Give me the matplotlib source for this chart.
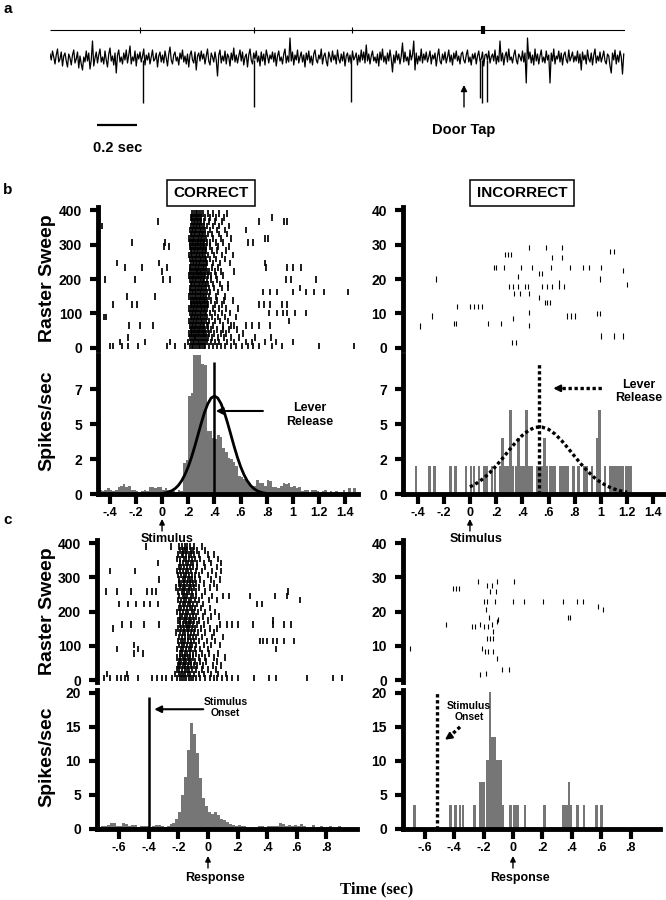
import numpy as np
import matplotlib
matplotlib.use("Agg")
import matplotlib.pyplot as plt

plt.rcParams["font.family"] = ["Liberation Sans", "DejaVu Sans"]
plt.rcParams["font.weight"] = "bold"

# ======================= DATA =======================
# ---- panel a : raw trace (relative amplitude), sampled every trace_dt s
trace_dt = 0.00625
trace_vals = [
    4, -2, 7, 1, -6, 3, 9, -4, -1, 6,
    -8, 2, 5, -3, -9, 4, 0, -7, 3, 8,
    -5, -1, 6, -10, 2, -6, -12, 1, -4, 7,
    -3, 5, -11, -2, 17, -8, 0, 6, -5, 3,
    9, -4, 1, -6, 7, -2, -9, 4, 10, -3,
    2, -7, 5, -15, 3, 8, -4, 1, -6, 5,
    -2, 8, -5, 3, 12, -6, 1, -3, 7, -8,
    4, -1, 6, -4, 2, 9, -7, 3, -2, 5,
    -6, 1, 8, -3, -1, 5, -9, 2, 6, -4,
    3, -5, 7, 0, -8, 4, 11, -2, -6, 3,
    6, -3, 1, -7, 5, -1, 8, -4, 2, -6,
    4, -9, 3, 7, -2, -5, 6, -12, 2, 5,
    -3, 7, -1, 4, -6, 2, 9, -3, -7, 5,
    1, -4, 6, -2, -18, 3, 8, -5, 2, -3,
    7, -6, 4, 1, -8, 5, -2, 10, -4, 3,
    -5, 2, 8, -3, 6, -7, 1, 4, -9, 3,
    9, -2, -6, 5, -1, 7, -4, 2, -8, 6,
    -3, 4, -7, 8, 2, -5, 3, -1, 6, -4,
    5, -8, 2, 7, -3, 1, -6, 4, 9, -5,
    2, -4, 20, -3, 6, -7, 3, -2, 8, -5,
    1, 6, -4, 3, -9, 5, -2, 7, -5, 2,
    -7, 4, 8, -2, -5, 3, -1, 9, -6, 2,
    5, -3, -8, 6, 1, -4, 7, -2, 3, -6,
    8, -1, -5, 4, -3, 6, -8, 2, 5, -4,
    3, -6, 7, -2, 1, 5, -7, 3, -4, 8,
    -2, 6, -5, 13, -3, 4, -6, 2, 7, -3,
    1, -5, 4, -8, 6, -2, 9, -4, 2, -6,
    5, -3, 8, -1, -14, 3, -5, 7, -2, 4,
    -6, 2, 15, -4, 6, -3, 1, -7, 8, -2,
    3, 17, -12, 5, -6, 2, -3, 9, -5, 4,
    -2, 6, -4, 1, 7, -6, 3, -1, 5, -8,
    2, 9, -3, -6, 4, -2, 6, -5, 1, 8,
    -4, 3, -7, 5, -1, 7, -3, 2, -6, 4,
    6, -2, -5, 3, 8, -4, 1, -7, 4, -1,
    5, -6, 2, 7, -3, -1, 6, -8, 3, 4,
    -2, 7, -5, 1, 4, -3, 8, -6, 2, -4,
    17, -3, 5, -7, 2, 6, -4, 9, -2, 1,
    -5, 3, 8, -2, -6, 4, 1, -3, 7, -4,
    5, -25, 20, -1, 6, -5, 3, -7, 9, -3,
    4, -6, 2, 8, -4, 1, -5, 7, -2, 3,
    -25, 5, -3, 9, -6, 2, -1, 7, -4, 5,
    -7, 3, 6, -2, -5, 8, -3, 1, 6, -4,
    2, -3, 7, -5, 4, -12, 6, -2, 3, -6,
    8, -1, -4, 5, -7, 3, 9, -5, 2, -3,
    6, -4, 1, 7, -3, -6, 4, 2, -8, -15,
    5, -2, 8, -6, 3, -4, 7, 1, -16, 4,
]
spike_times_a = [0.465, 1.02, 1.505, 2.15, 2.16, 2.185]
spike_depths_a = [-45, -49, -44, -40, -45, -44]
event_ticks_a = [0.45, 1.02, 1.51]
door_marker_a = 2.165
door_arrow_a = 2.07

# ---- panel b, CORRECT raster (trial, spike times in ms)
cb_trials = [6, 18, 30, 42, 54, 66, 78, 90, 102, 114, 126, 138, 150, 162, 174, 186, 198,
             210, 222, 234, 246, 258, 270, 282, 294, 306, 318, 330, 342, 354, 366, 378, 390]
cb_times = [
    [-400, -372, -303, -262, -181, 38, 97, 176, 212, 228, 239, 251, 266, 279, 288, 302, 317, 331, 356, 388, 417, 452, 478, 523, 567, 612, 658, 697, 742, 838, 917, 1196, 1468],
    [-322, -131, 57, 198, 221, 236, 247, 259, 273, 284, 297, 311, 326, 343, 371, 408, 437, 497, 548, 641, 683, 789, 868, 1002],
    [-263, 216, 229, 241, 253, 262, 276, 289, 304, 318, 333, 352, 384, 428, 471, 529, 584, 713, 829],
    [207, 223, 232, 246, 258, 271, 283, 296, 309, 322, 338, 361, 398, 447, 488, 618],
    [219, 231, 244, 252, 267, 279, 291, 305, 314, 329, 347, 372, 417, 463, 512, 571],
    [-254, -168, -72, 214, 226, 238, 249, 263, 277, 286, 299, 313, 324, 341, 353, 391, 468, 527, 553, 641, 689, 742, 821],
    [209, 224, 235, 247, 256, 269, 281, 294, 307, 319, 332, 358, 406, 441, 503, 968],
    [-447, -428, 218, 229, 243, 254, 266, 278, 292, 301, 316, 327, 344, 379, 426, 481, 563],
    [213, 227, 236, 251, 262, 274, 287, 298, 312, 325, 339, 366, 402, 458, 518, 818, 876, 921, 953, 1012, 1098],
    [206, 221, 233, 245, 257, 268, 283, 296, 308, 317, 331, 346, 387, 436, 492, 583],
    [-371, -232, -188, 218, 229, 242, 255, 264, 276, 289, 299, 313, 328, 342, 352, 403, 454, 738, 779, 822, 917, 951],
    [221, 234, 246, 256, 269, 281, 293, 304, 317, 329, 343, 377, 416, 472, 538],
    [-271, -52, 208, 223, 235, 248, 259, 272, 286, 297, 309, 321, 336, 359, 409, 482],
    [216, 228, 239, 252, 263, 276, 288, 298, 313, 327, 341, 368, 428, 768, 823, 879, 1003, 1097, 1162, 1238, 1421],
    [211, 222, 237, 249, 261, 274, 284, 296, 306, 319, 332, 356, 398, 459, 507, 1052],
    [219, 231, 244, 253, 266, 279, 291, 303, 312, 326, 338, 352, 391, 439, 502],
    [-432, -203, 4, 58, 214, 226, 239, 251, 263, 277, 289, 301, 315, 324, 342, 377, 418, 948, 983, 1179],
    [208, 222, 234, 247, 258, 271, 282, 294, 306, 318, 331, 353, 371, 412, 468],
    [3, 217, 229, 242, 256, 264, 278, 289, 301, 313, 328, 344, 361, 403, 451, 548],
    [-283, -152, 38, 212, 223, 236, 248, 259, 273, 285, 297, 309, 322, 337, 378, 427, 792, 957, 1003, 1061],
    [-342, -27, 219, 233, 244, 256, 268, 279, 292, 305, 318, 333, 342, 388, 441, 518, 783],
    [214, 226, 238, 251, 262, 276, 287, 299, 312, 325, 338, 366, 414, 477],
    [206, 221, 232, 245, 257, 268, 281, 293, 304, 316, 329, 351, 399, 461, 538],
    [218, 229, 242, 253, 266, 277, 289, 302, 314, 327, 339, 379, 423, 487],
    [12, 53, 211, 224, 236, 248, 262, 273, 286, 297, 309, 321, 334, 368, 428, 512],
    [-228, 22, 216, 227, 239, 252, 264, 276, 287, 299, 311, 324, 344, 363, 412, 468, 658, 692],
    [209, 223, 235, 246, 259, 271, 284, 296, 308, 319, 332, 392, 451, 524, 783, 812],
    [219, 232, 243, 255, 267, 279, 291, 302, 316, 328, 352, 381, 438, 497],
    [212, 226, 237, 249, 261, 272, 286, 297, 309, 326, 368, 419, 478, 641],
    [-458, 221, 233, 246, 257, 269, 281, 293, 306, 319, 341, 388, 432, 508],
    [-32, 228, 241, 253, 264, 276, 288, 301, 318, 362, 402, 458, 742, 928, 951],
    [218, 232, 244, 257, 269, 282, 296, 328, 367, 409, 472, 838],
    [227, 241, 256, 268, 283, 296, 312, 348, 389, 437, 496],
]
# ---- panel b, CORRECT histogram (spikes/sec), 20 ms bins from -0.48 s
cb_hist_start = -0.48
cb_hist_bin = 0.02
cb_hist_rates = [0.3, 0.2, 0.3, 0.4, 0.3, 0.2, 0.3, 0.5, 0.6, 0.7, 0.5, 0.6, 0.3,
                 0.3, 0.2, 0.0, 0.2, 0.3, 0.2, 0.5, 0.5, 0.4, 0.5, 0.5, 0.3, 0.4, 0.3, 0.2,
                 0.2, 0.1, 0.3, 0.2,
                 2.2, 2.4, 7.0, 7.2, 10.5, 10.5, 10.5, 9.3, 9.2,
                 4.5, 4.5, 4.0, 3.9, 4.2, 4.1, 3.3, 3.0, 2.6, 2.5, 2.3, 2.0,
                 1.3, 1.2, 1.1, 0.9, 0.8, 0.6, 0.6, 1.0, 0.8, 0.8, 0.6, 1.0, 0.9, 0.5, 0.5,
                 0.4, 0.6, 0.8, 0.7, 0.8, 0.5, 0.6, 0.4, 0.5, 0.2,
                 0.3, 0.3, 0.0, 0.3, 0.3, 0.2, 0.0, 0.2, 0.3, 0.0, 0.2, 0.0, 0.2, 0.0, 0.0,
                 0.3, 0.0, 0.4, 0.0, 0.4, 0.0]
# Gaussian fit curve
cb_fit_t = [0.0, 0.025, 0.05, 0.075, 0.1, 0.125, 0.15, 0.175, 0.2, 0.225, 0.25, 0.275, 0.3,
            0.325, 0.35, 0.375, 0.4, 0.425, 0.45, 0.475, 0.5, 0.525, 0.55, 0.575, 0.6,
            0.625, 0.65, 0.675, 0.7, 0.725, 0.75, 0.775, 0.8]
cb_fit_rate = [0.04, 0.08, 0.14, 0.24, 0.39, 0.62, 0.95, 1.39, 1.95, 2.63, 3.41, 4.25, 5.08,
               5.85, 6.46, 6.86, 7.0, 6.86, 6.46, 5.85, 5.08, 4.25, 3.41, 2.63, 1.95,
               1.39, 0.95, 0.62, 0.39, 0.24, 0.14, 0.08, 0.04]
cb_lever = 0.4

# ---- panel b, INCORRECT raster (trial, spike times in s)
ib_trials = [29.2, 27.2, 28.0, 26.3, 23.4, 22.4, 21.6, 20.7, 20.0, 19.0, 18.5, 17.8, 15.9,
             14.6, 13.1, 12.0, 10.2, 9.9, 9.3, 8.6, 7.0, 6.5, 6.4, 3.5, 1.5]
ib_times = [
    [0.45, 0.58, 0.70], [0.27, 0.29, 0.31], [1.07, 1.10], [0.63, 0.70],
    [0.18, 0.20, 0.26, 0.39, 0.47, 0.62, 0.76, 0.86, 0.91, 1.00], [1.17], [0.53, 0.55],
    [0.37], [-0.26, 0.99], [0.68], [1.20],
    [0.30, 0.33, 0.37, 0.42, 0.44, 0.55, 0.59, 0.63, 0.68, 0.72],
    [0.34, 0.38, 0.45], [0.53], [0.57, 0.59, 0.61], [-0.10, 0.0, 0.03, 0.06, 0.09],
    [0.45], [0.97, 0.99], [-0.29, 0.74, 0.77, 0.80], [0.33],
    [-0.12, -0.11, 0.14, 0.24], [0.45], [-0.38], [1.0, 1.1, 1.17], [0.32, 0.35],
]
# ---- panel b, INCORRECT histogram, 20 ms bins from -0.42 s
ib_hist_start = -0.42
ib_hist_bin = 0.02
ib_hist_rates = [2, 0, 0, 0, 0, 2, 0, 2, 0, 0, 0, 0, 0, 2, 0, 2, 0, 0, 0, 2, 0,
                 2, 2, 0, 2, 0, 2, 2, 0, 2, 2, 0, 2, 4, 2, 2, 6, 2, 2, 4, 2,
                 2, 6, 2, 2, 0, 2, 2, 2, 4, 2, 2, 2, 2, 0, 2, 2, 2, 2, 0, 2,
                 0, 2, 0, 2, 2, 0, 2, 0, 4, 6, 0, 2, 0, 2, 2, 2, 2, 2, 2, 2, 2, 2]
ib_fit_t = [0.0, 0.05, 0.1, 0.15, 0.2, 0.25, 0.3, 0.35, 0.4, 0.45, 0.5, 0.55, 0.6,
            0.65, 0.7, 0.75, 0.8, 0.85, 0.9, 0.95, 1.0, 1.05, 1.1, 1.15, 1.2]
ib_fit_rate = [0.51, 0.76, 1.09, 1.51, 2.01, 2.56, 3.14, 3.70, 4.19, 4.56, 4.77, 4.78, 4.62,
               4.28, 3.81, 3.26, 2.68, 2.12, 1.61, 1.17, 0.82, 0.55, 0.36, 0.22, 0.13]
ib_lever = 0.53

# ---- panel c, CORRECT raster (trial, spike times in ms re: response)
cc_trials = [6, 18, 30, 42, 54, 66, 78, 90, 102, 114, 126, 138, 150, 162, 174, 186, 198,
             210, 222, 234, 246, 258, 270, 282, 294, 306, 318, 330, 342, 354, 366, 378, 390]
cc_times = [
    [-702, -661, -618, -587, -563, -538, -472, -381, -342, -308, -281, -243, -212, -192, -176, -163, -148, -131, -117, -102, -83, -52, -21, 12, 41, 63, 97, 128, 161, 203, 312, 409, 462, 671, 842, 903],
    [-683, -548, -223, -198, -183, -167, -152, -134, -119, -96, -63, -28, 18, 71, 122],
    [-212, -193, -176, -158, -142, -127, -108, -82, -41, 3, 52],
    [-203, -186, -171, -153, -138, -116, -94, -71, -33, 31, 88],
    [-196, -181, -164, -147, -126, -113, -91, -54, -12, 62],
    [-208, -188, -168, -152, -136, -121, -102, -63, -18, 42, 113],
    [-502, -441, -192, -174, -156, -143, -124, -104, -78, -38, 8, 68],
    [-618, -473, -211, -183, -167, -146, -131, -112, -87, -52, 2, 458],
    [-497, -198, -177, -161, -141, -123, -106, -81, -29, 22, 79],
    [-202, -184, -166, -152, -134, -113, -92, -58, -8, 49, 352, 371, 398, 441, 468, 512, 583],
    [-193, -176, -153, -138, -122, -101, -84, -42, 28, 103],
    [-214, -192, -171, -154, -133, -118, -97, -68, -22, 38],
    [-641, -201, -182, -163, -144, -128, -109, -88, -49, 12, 58],
    [-583, -518, -432, -331, -189, -172, -151, -137, -119, -103, -77, -28, 81, 128, 162, 203, 302, 441, 512, 561],
    [-204, -186, -163, -146, -129, -114, -92, -59, 3, 442],
    [-192, -173, -158, -139, -121, -102, -83, -37, 18, 72],
    [-209, -191, -172, -151, -132, -111, -93, -68, -17, 48],
    [-198, -181, -162, -143, -124, -108, -86, -48, 11],
    [-602, -541, -487, -432, -392, -341, -188, -169, -152, -138, -119, -98, -72, -31, 331, 362],
    [-203, -183, -164, -148, -127, -112, -89, -62, 4, 58, 621],
    [-194, -172, -157, -141, -118, -99, -78, -42, 28, 102, 141, 282, 452, 531],
    [-692, -618, -521, -412, -381, -352, -201, -178, -161, -143, -128, -107, -81, -21, 538],
    [-213, -191, -168, -152, -131, -117, -96, -61, 12, 63],
    [-199, -182, -159, -142, -121, -103, -79, -28, 42],
    [-331, -193, -171, -158, -138, -122, -108, -87, -52, 18, 82],
    [-204, -179, -163, -148, -127, -111, -91, -58, 3, 51],
    [-661, -492, -211, -188, -169, -151, -132, -113, -82, -38, 28, 91],
    [-197, -182, -161, -141, -119, -102, -71, -18, 62],
    [-338, -188, -171, -149, -137, -118, -98, -77, -28, 21, 88],
    [-208, -186, -162, -148, -128, -109, -88, -51, 8, 71],
    [-201, -178, -166, -147, -131, -116, -97, -63, 2, 43],
    [-192, -171, -158, -139, -118, -101, -72, -22],
    [-422, -251, -198, -177, -158, -141, -121, -92, -38],
]
cc_hist_start = -0.72
cc_hist_bin = 0.02
cc_hist_rates = [0.4, 0.3, 0.5, 0.8, 0.8, 0.4, 0.3, 0.8, 0.7, 0.3,
                 0.5, 0.5, 0.2, 0.4, 0.4, 0.3, 0.2, 0.3, 0.5, 0.5,
                 0.3, 0.2, 0.3, 0.6, 0.8, 1.4, 2.5, 4.9, 7.6, 11.6,
                 15.6, 14.0, 11.2, 7.4, 4.5, 3.3, 2.4, 2.2, 2.5, 2.0,
                 1.4, 1.2, 0.9, 0.6, 0.5, 0.4, 0.5, 0.4, 0.4, 0.2,
                 0.1, 0.0, 0.1, 0.3, 0.3, 0.1, 0.4, 0.4, 0.3, 0.4,
                 0.8, 0.6, 0.4, 0.5, 0.3, 0.5, 0.4, 0.6, 0.3, 0.1,
                 0.2, 0.5, 0.1, 0.2, 0.4, 0.1, 0.2, 0.4, 0.1, 0.0,
                 0.4, 0.1]
cc_stim_onset = -0.4

# ---- panel c, INCORRECT raster (trial, spike times in s re: response)
ic_trials = [28.7, 27.7, 26.6, 25.8, 22.9, 21.6, 20.6, 18.3, 17.7, 17.0, 16.1, 15.6, 14.1,
             12.2, 9.2, 8.3, 6.3, 3.1, 1.9, 1.5]
ic_times = [
    [-0.236, -0.111, 0.007], [-0.179, -0.145], [-0.406, -0.388, -0.367], [-0.156, -0.116],
    [-0.197, -0.179, -0.122, 0.002, 0.075, 0.206, 0.342, 0.437, 0.478], [0.58], [0.61, -0.184],
    [0.375, 0.385, -0.161], [-0.1], [-0.111], [-0.458, -0.224, -0.145], [-0.281, -0.259, -0.195, -0.168],
    [-0.134], [-0.179, -0.156, -0.138], [-0.70, -0.213], [-0.19, -0.168, -0.138], [-0.107],
    [-0.077, -0.025], [-0.184], [-0.224],
]
ic_hist_centers = [-0.67, -0.425, -0.39, -0.36, -0.34, -0.26, -0.22, -0.20, -0.175, -0.157,
                   -0.14, -0.122, -0.104, -0.087, -0.07, -0.016, 0.009, 0.032, 0.082, 0.213,
                   0.342, 0.365, 0.38, 0.395, 0.437, 0.483, 0.569, 0.603]
ic_hist_rates = [3.4, 3.4, 3.4, 3.4, 3.4, 3.4, 6.8, 6.8, 10.1, 20.2,
                 13.5, 13.5, 10.1, 10.1, 3.4, 3.4, 3.4, 3.4, 3.4, 3.4,
                 3.4, 3.4, 6.8, 3.4, 3.4, 3.4, 3.4, 3.4]
ic_stim_onset = -0.52

b_xticks = [-0.4, -0.2, 0, 0.2, 0.4, 0.6, 0.8, 1.0, 1.2, 1.4]
b_xlabels = ["-.4", "-.2", "0", ".2", ".4", ".6", ".8", "1", "1.2", "1.4"]
c_xticks = [-0.6, -0.4, -0.2, 0, 0.2, 0.4, 0.6, 0.8]
c_xlabels = ["-.6", "-.4", "-.2", "0", ".2", ".4", ".6", ".8"]
b_hist_yticks = [0, 2.5, 5, 7.5]
b_hist_ylabels = ["0", "2", "5", "7"]
c_hist_yticks = [0, 5, 10, 15, 20]

# ======================= LAYOUT =======================
W, H = 666, 900
fig = plt.figure(figsize=(W / 100, H / 100), dpi=100)


def add_ax(l, t, r, b):
    return fig.add_axes([l / W, 1 - b / H, (r - l) / W, (b - t) / H])


ov = fig.add_axes([0, 0, 1, 1])
ov.set_xlim(0, W)
ov.set_ylim(H, 0)
ov.axis("off")

BAR = "#767676"
SPW = 3.5
DOT = (0, (1.0, 0.8))


def raster(ax, trials, times, scale, h, xlim, ylim, yticks, lw=0.8):
    xs, ys = [], []
    for tr, row in zip(trials, times):
        for v in row:
            xs.append(v * scale)
            ys.append(tr)
    ys = np.array(ys)
    ax.vlines(xs, ys - h / 2, ys + h / 2, color="k", lw=lw)
    ax.set_xlim(*xlim)
    ax.set_ylim(*ylim)
    for s in ["top", "right", "bottom"]:
        ax.spines[s].set_visible(False)
    ax.spines["left"].set_linewidth(SPW)
    ax.set_xticks([])
    ax.set_yticks(yticks)
    ax.tick_params(axis="y", length=5.5, width=3, pad=6, labelsize=10)
    ax.patch.set_alpha(0)


def hist_axes(ax, xlim, ylim, xticks, xlabels, yticks, ylabels, xpad):
    ax.set_xlim(*xlim)
    ax.set_ylim(*ylim)
    for s in ["top", "right"]:
        ax.spines[s].set_visible(False)
    for s in ["left", "bottom"]:
        ax.spines[s].set_linewidth(SPW)
        ax.spines[s].set_zorder(5)
    ax.set_xticks(xticks)
    ax.set_xticklabels(xlabels)
    ax.set_yticks(yticks)
    ax.set_yticklabels(ylabels)
    ax.tick_params(axis="x", length=7, width=3, pad=xpad, labelsize=9)
    ax.tick_params(axis="y", length=5.5, width=3, pad=6, labelsize=10)
    ax.patch.set_alpha(0)


ARW = dict(arrowstyle="-|>", color="k", lw=1.5, mutation_scale=10, shrinkA=0, shrinkB=0)

# ---------------- panel a ----------------
axa = add_ax(50, 15, 625, 160)
ta = np.arange(len(trace_vals)) * trace_dt
axa.plot(ta, trace_vals, color="k", lw=0.9)
axa.vlines(spike_times_a, -2, spike_depths_a, color="k", lw=1.0)
axa.hlines(28, 0, 2.875, color="k", lw=0.8)
axa.vlines(event_ticks_a, 25, 31, color="k", lw=0.8)
axa.vlines(door_marker_a, 24, 32, color="k", lw=3)
axa.hlines(-67, 0.235, 0.435, color="k", lw=1.6)
axa.text(0.34, -90, "0.2 sec", ha="center", va="center", fontsize=10.5)
axa.text(door_arrow_a, -72, "Door Tap", ha="center", va="center", fontsize=10.5)
axa.annotate("", xy=(door_arrow_a, -27), xytext=(door_arrow_a, -49),
             arrowprops=dict(arrowstyle="-|>", color="k", lw=1.0, mutation_scale=9,
                             shrinkA=0, shrinkB=0))
axa.set_xlim(0, 2.875)
axa.set_ylim(-102, 43)
axa.axis("off")

# ---------------- panel b ----------------
ax1 = add_ax(98, 207, 358, 350)
raster(ax1, cb_trials, cb_times, 0.001, 19, (-0.489, 1.496), (-5.8, 408.7),
       [0, 100, 200, 300, 400], lw=1.25)
ax2 = add_ax(98, 355, 358, 494)
cent = cb_hist_start + cb_hist_bin * (np.arange(len(cb_hist_rates)) + 0.5)
ax2.bar(cent, cb_hist_rates, width=cb_hist_bin, color=BAR, lw=0)
ax2.plot(cb_fit_t, cb_fit_rate, color="k", lw=2)
ax2.vlines(cb_lever, 0, 9.4, color="k", lw=1.8)
hist_axes(ax2, (-0.489, 1.496), (0, 9.93), b_xticks, b_xlabels, b_hist_yticks,
          b_hist_ylabels, 2)
ax2.annotate("", xy=(cb_lever + 0.01, 5.93), xytext=(0.77, 5.93), arrowprops=ARW)
ax2.text(1.13, 5.65, "Lever\nRelease", ha="center", va="center", fontsize=9,
         linespacing=1.15)

ax3 = add_ax(403, 207, 665, 350)
raster(ax3, ib_trials, ib_times, 1.0, 1.5, (-0.511, 1.489), (-0.58, 40.87),
       [0, 10, 20, 30, 40])
ax4 = add_ax(403, 355, 665, 494)
cent = ib_hist_start + ib_hist_bin * (np.arange(len(ib_hist_rates)) + 0.5)
ax4.bar(cent, ib_hist_rates, width=ib_hist_bin * 0.95, color=BAR, lw=0)
ax4.plot(ib_fit_t, ib_fit_rate, color="k", lw=2.4, ls=DOT)
ax4.vlines(ib_lever, 0, 9.45, color="k", lw=2.4, linestyles=[DOT])
hist_axes(ax4, (-0.511, 1.489), (0, 9.93), b_xticks, b_xlabels, b_hist_yticks,
          b_hist_ylabels, 2)
ax4.plot([0.70, 1.005], [7.55, 7.55], color="k", lw=2.4, ls=DOT)
ax4.annotate("", xy=(0.636, 7.55), xytext=(0.70, 7.55), arrowprops=ARW)
ax4.text(1.29, 7.34, "Lever\nRelease", ha="center", va="center", fontsize=9,
         linespacing=1.15, clip_on=False)

# ---------------- panel c ----------------
ax5 = add_ax(97, 540, 357, 682)
raster(ax5, cc_trials, cc_times, 0.001, 19, (-0.75, 1.007), (-5.84, 408.8),
       [0, 100, 200, 300, 400], lw=1.25)
ax6 = add_ax(97, 690, 357, 828.5)
cent = cc_hist_start + cc_hist_bin * (np.arange(len(cc_hist_rates)) + 0.5)
ax6.bar(cent, cc_hist_rates, width=cc_hist_bin, color=BAR, lw=0)
ax6.vlines(cc_stim_onset, 0, 19.4, color="k", lw=1.8)
hist_axes(ax6, (-0.75, 1.007), (0, 20.44), c_xticks, c_xlabels, c_hist_yticks,
          [str(v) for v in c_hist_yticks], 3)
ax6.annotate("", xy=(cc_stim_onset + 0.037, 17.6), xytext=(-0.032, 17.6), arrowprops=ARW)
ax6.text(0.12, 17.8, "Stimulus\nOnset", ha="center", va="center", fontsize=7.5,
         linespacing=1.15)

ax7 = add_ax(403, 540, 660, 682)
raster(ax7, ic_trials, ic_times, 1.0, 1.46, (-0.748, 1.0), (-0.58, 40.9),
       [0, 10, 20, 30, 40])
ax8 = add_ax(403, 690, 660, 828.5)
ax8.bar(ic_hist_centers, ic_hist_rates, width=0.018, color=BAR, lw=0)
ax8.vlines(ic_stim_onset, 0, 20.0, color="k", lw=2.4, linestyles=[DOT])
hist_axes(ax8, (-0.748, 1.0), (0, 20.44), c_xticks, c_xlabels, c_hist_yticks,
          [str(v) for v in c_hist_yticks], 3)
ax8.plot([-0.36, -0.43], [15.0, 13.6], color="k", lw=2.4, ls=DOT)
ax8.annotate("", xy=(-0.463, 13.1), xytext=(-0.43, 13.6), arrowprops=ARW)
ax8.text(-0.30, 17.3, "Stimulus\nOnset", ha="center", va="center", fontsize=7.5,
         linespacing=1.15)


# ---------------- reference markers below axes ----------------
def under_arrow(ax, x, y0, y1, label, ylab, dx):
    ax.annotate("", xy=(x, y0), xytext=(x, y1), xycoords=(ax.transData, ov.transData),
                textcoords=(ax.transData, ov.transData),
                arrowprops=dict(arrowstyle="-|>", color="k", lw=1.0, mutation_scale=8,
                                shrinkA=0, shrinkB=0))
    ax.annotate(label, xy=(x + dx, ylab), xycoords=(ax.transData, ov.transData),
                ha="center", va="center", fontsize=9, annotation_clip=False)


under_arrow(ax2, 0.0, 519, 531, "Stimulus", 539, 0.04)
under_arrow(ax4, 0.0, 519, 531, "Stimulus", 539, 0.045)
under_arrow(ax6, 0.0, 856, 868, "Response", 878, 0.045)
under_arrow(ax8, 0.0, 856, 868, "Response", 878, 0.045)

# ---------------- titles and labels ----------------
box = dict(boxstyle="square,pad=0.42", fc="white", ec="k", lw=1.1)
ov.text(211, 193, "CORRECT", ha="center", va="center", fontsize=11, bbox=box)
ov.text(522, 193, "INCORRECT", ha="center", va="center", fontsize=11, bbox=box)

for y in (278, 611):
    ov.text(47, y, "Raster Sweep", rotation=90, ha="center", va="center", fontsize=14)
for y in (421, 757):
    ov.text(47, y, "Spikes/sec", rotation=90, ha="center", va="center", fontsize=14)

ov.text(3, 2, "a", ha="left", va="top", fontsize=11)
ov.text(3, 183, "b", ha="left", va="top", fontsize=11)
ov.text(3, 513, "c", ha="left", va="top", fontsize=11)
ov.text(377, 889, "Time (sec)", ha="center", va="center", fontsize=12,
        family=["Liberation Serif", "DejaVu Serif"])

fig.savefig("out.png", dpi=100)
